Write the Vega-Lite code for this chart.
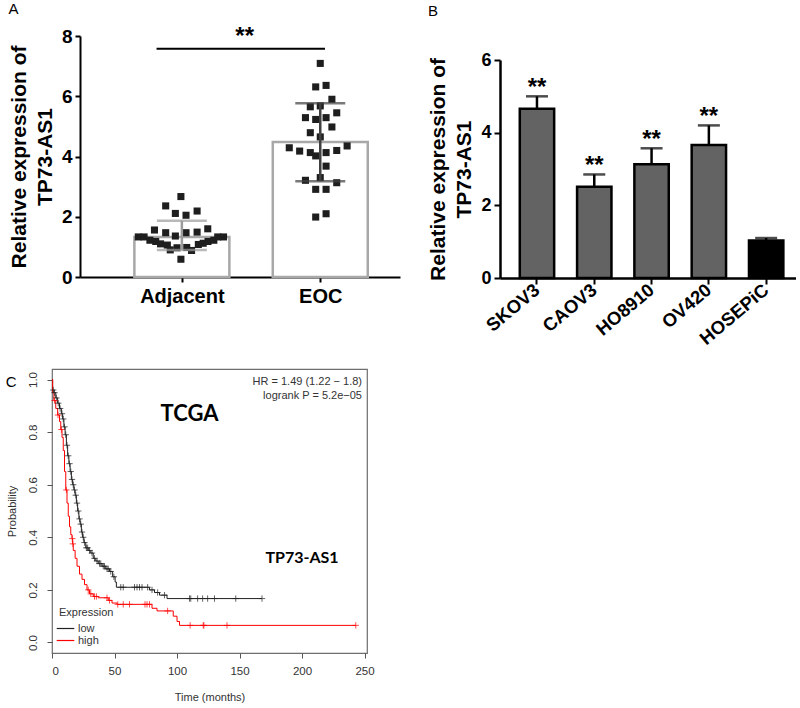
{
  "$schema": "https://vega.github.io/schema/vega-lite/v6.json",
  "padding": {"left": 5, "top": 2, "right": 0, "bottom": 0},
  "background": "white",
  "config": {"view": {"stroke": null}, "font": "Liberation Sans"},
  "resolve": {"scale": {"color": "independent", "stroke": "independent"}, "legend": {"color": "independent", "stroke": "independent"}},
  "datasets": {
    "barsA": [
      {"pos": 1, "group": "Adjacent", "mean": 1.33, "lo": 0.90, "hi": 1.87},
      {"pos": 2, "group": "EOC", "mean": 4.48, "lo": 3.18, "hi": 5.77}
    ],
    "ptsA": [
      {"xpos": 0.993, "v": 2.67}, {"xpos": 0.883, "v": 2.36}, {"xpos": 0.953, "v": 2.11}, {"xpos": 1.030, "v": 2.05},
      {"xpos": 1.110, "v": 2.19}, {"xpos": 0.802, "v": 1.56}, {"xpos": 0.883, "v": 1.47}, {"xpos": 0.953, "v": 1.36},
      {"xpos": 1.030, "v": 1.47}, {"xpos": 1.110, "v": 1.49}, {"xpos": 1.187, "v": 1.60}, {"xpos": 0.993, "v": 0.59},
      {"xpos": 0.685, "v": 1.33}, {"xpos": 0.727, "v": 1.33}, {"xpos": 0.769, "v": 1.22}, {"xpos": 0.811, "v": 1.18},
      {"xpos": 0.846, "v": 1.10}, {"xpos": 0.895, "v": 1.06}, {"xpos": 0.916, "v": 0.90}, {"xpos": 0.965, "v": 0.97},
      {"xpos": 1.035, "v": 0.98}, {"xpos": 1.070, "v": 0.88}, {"xpos": 1.119, "v": 1.08}, {"xpos": 1.154, "v": 1.12},
      {"xpos": 1.189, "v": 1.18}, {"xpos": 1.231, "v": 1.22}, {"xpos": 1.259, "v": 1.33}, {"xpos": 1.301, "v": 1.33},
      {"xpos": 2.000, "v": 7.09}, {"xpos": 1.967, "v": 6.31}, {"xpos": 2.042, "v": 6.36}, {"xpos": 2.084, "v": 5.90},
      {"xpos": 1.928, "v": 5.65}, {"xpos": 2.000, "v": 5.68}, {"xpos": 2.119, "v": 5.45}, {"xpos": 1.893, "v": 5.29},
      {"xpos": 1.967, "v": 5.23}, {"xpos": 2.042, "v": 5.29}, {"xpos": 2.084, "v": 4.98}, {"xpos": 1.928, "v": 4.79},
      {"xpos": 2.000, "v": 4.65}, {"xpos": 1.776, "v": 4.29}, {"xpos": 1.851, "v": 4.18}, {"xpos": 1.928, "v": 4.13},
      {"xpos": 1.967, "v": 4.02}, {"xpos": 2.042, "v": 4.13}, {"xpos": 2.119, "v": 4.20}, {"xpos": 2.194, "v": 4.35},
      {"xpos": 2.042, "v": 3.68}, {"xpos": 1.893, "v": 3.21}, {"xpos": 2.000, "v": 3.30}, {"xpos": 2.119, "v": 3.13},
      {"xpos": 1.967, "v": 2.91}, {"xpos": 2.042, "v": 2.91}, {"xpos": 1.967, "v": 1.99}, {"xpos": 2.042, "v": 2.10}
    ],
    "barsB": [
      {"line": "SKOV3", "mean": 4.66, "hi": 5.0, "sig": "**"},
      {"line": "CAOV3", "mean": 2.51, "hi": 2.85, "sig": "**"},
      {"line": "HO8910", "mean": 3.13, "hi": 3.57, "sig": "**"},
      {"line": "OV420", "mean": 3.66, "hi": 4.2, "sig": "**"},
      {"line": "HOSEPiC", "mean": 1.03, "hi": 1.10, "sig": ""}
    ],
    "km": [
      {"t": 0, "s": 1.0, "g": "low"}, {"t": 0.5, "s": 0.96, "g": "low"}, {"t": 1.5, "s": 0.95, "g": "low"},
      {"t": 3, "s": 0.93, "g": "low"}, {"t": 4.5, "s": 0.91, "g": "low"}, {"t": 6, "s": 0.89, "g": "low"},
      {"t": 7.5, "s": 0.87, "g": "low"}, {"t": 8.5, "s": 0.85, "g": "low"}, {"t": 9.5, "s": 0.82, "g": "low"},
      {"t": 10.5, "s": 0.79, "g": "low"}, {"t": 11.5, "s": 0.75, "g": "low"}, {"t": 12.5, "s": 0.71, "g": "low"},
      {"t": 13.5, "s": 0.68, "g": "low"}, {"t": 14.5, "s": 0.65, "g": "low"}, {"t": 15.5, "s": 0.62, "g": "low"},
      {"t": 16.5, "s": 0.60, "g": "low"}, {"t": 17.5, "s": 0.58, "g": "low"}, {"t": 18.5, "s": 0.56, "g": "low"},
      {"t": 19.5, "s": 0.53, "g": "low"}, {"t": 20.5, "s": 0.50, "g": "low"}, {"t": 21.5, "s": 0.47, "g": "low"},
      {"t": 22.5, "s": 0.45, "g": "low"}, {"t": 23.5, "s": 0.42, "g": "low"}, {"t": 24.5, "s": 0.40, "g": "low"},
      {"t": 25.5, "s": 0.38, "g": "low"}, {"t": 27, "s": 0.36, "g": "low"}, {"t": 29, "s": 0.35, "g": "low"},
      {"t": 31, "s": 0.34, "g": "low"}, {"t": 33, "s": 0.32, "g": "low"}, {"t": 35, "s": 0.31, "g": "low"},
      {"t": 37, "s": 0.30, "g": "low"}, {"t": 40, "s": 0.29, "g": "low"}, {"t": 43, "s": 0.28, "g": "low"},
      {"t": 46, "s": 0.27, "g": "low"}, {"t": 48.5, "s": 0.25, "g": "low"}, {"t": 50.5, "s": 0.23, "g": "low"},
      {"t": 51.5, "s": 0.21, "g": "low"}, {"t": 78, "s": 0.20, "g": "low"}, {"t": 82, "s": 0.19, "g": "low"},
      {"t": 86, "s": 0.18, "g": "low"}, {"t": 92, "s": 0.167, "g": "low"}, {"t": 168, "s": 0.167, "g": "low"},
      {"t": 0, "s": 1.0, "g": "high"}, {"t": 0.5, "s": 0.95, "g": "high"}, {"t": 1.5, "s": 0.92, "g": "high"},
      {"t": 3, "s": 0.89, "g": "high"}, {"t": 4.5, "s": 0.865, "g": "high"}, {"t": 6, "s": 0.84, "g": "high"},
      {"t": 7, "s": 0.81, "g": "high"}, {"t": 8, "s": 0.78, "g": "high"}, {"t": 9, "s": 0.73, "g": "high"},
      {"t": 10, "s": 0.65, "g": "high"}, {"t": 11, "s": 0.58, "g": "high"}, {"t": 12, "s": 0.53, "g": "high"},
      {"t": 13, "s": 0.48, "g": "high"}, {"t": 14, "s": 0.44, "g": "high"}, {"t": 15, "s": 0.41, "g": "high"},
      {"t": 16, "s": 0.395, "g": "high"}, {"t": 16.5, "s": 0.375, "g": "high"}, {"t": 17, "s": 0.35, "g": "high"},
      {"t": 18.5, "s": 0.32, "g": "high"}, {"t": 20, "s": 0.29, "g": "high"}, {"t": 22, "s": 0.26, "g": "high"},
      {"t": 24, "s": 0.24, "g": "high"}, {"t": 26, "s": 0.22, "g": "high"}, {"t": 28, "s": 0.20, "g": "high"},
      {"t": 30, "s": 0.185, "g": "high"}, {"t": 33, "s": 0.175, "g": "high"}, {"t": 37, "s": 0.17, "g": "high"},
      {"t": 45, "s": 0.16, "g": "high"}, {"t": 48, "s": 0.15, "g": "high"}, {"t": 52, "s": 0.145, "g": "high"},
      {"t": 80, "s": 0.13, "g": "high"}, {"t": 84, "s": 0.12, "g": "high"}, {"t": 97, "s": 0.10, "g": "high"},
      {"t": 100, "s": 0.08, "g": "high"}, {"t": 102, "s": 0.065, "g": "high"}, {"t": 243, "s": 0.065, "g": "high"}
    ],
    "cens": [
      {"t": 1, "s": 0.96, "g": "low"}, {"t": 2, "s": 0.95, "g": "low"}, {"t": 3.5, "s": 0.93, "g": "low"},
      {"t": 5, "s": 0.91, "g": "low"}, {"t": 6.5, "s": 0.89, "g": "low"}, {"t": 8, "s": 0.87, "g": "low"},
      {"t": 9, "s": 0.85, "g": "low"}, {"t": 10, "s": 0.82, "g": "low"}, {"t": 11, "s": 0.79, "g": "low"},
      {"t": 12, "s": 0.75, "g": "low"}, {"t": 13, "s": 0.71, "g": "low"}, {"t": 14, "s": 0.68, "g": "low"},
      {"t": 15, "s": 0.65, "g": "low"}, {"t": 16, "s": 0.62, "g": "low"}, {"t": 17, "s": 0.60, "g": "low"},
      {"t": 18, "s": 0.58, "g": "low"}, {"t": 19, "s": 0.56, "g": "low"}, {"t": 20, "s": 0.53, "g": "low"},
      {"t": 21, "s": 0.50, "g": "low"}, {"t": 22, "s": 0.47, "g": "low"}, {"t": 23, "s": 0.45, "g": "low"},
      {"t": 24, "s": 0.42, "g": "low"}, {"t": 25, "s": 0.40, "g": "low"}, {"t": 26, "s": 0.38, "g": "low"},
      {"t": 27.5, "s": 0.36, "g": "low"}, {"t": 28.5, "s": 0.36, "g": "low"}, {"t": 30, "s": 0.35, "g": "low"},
      {"t": 32, "s": 0.34, "g": "low"}, {"t": 34, "s": 0.32, "g": "low"}, {"t": 36, "s": 0.31, "g": "low"},
      {"t": 38, "s": 0.30, "g": "low"}, {"t": 39, "s": 0.30, "g": "low"}, {"t": 41, "s": 0.29, "g": "low"},
      {"t": 42, "s": 0.29, "g": "low"}, {"t": 44, "s": 0.28, "g": "low"}, {"t": 45, "s": 0.28, "g": "low"},
      {"t": 47, "s": 0.27, "g": "low"}, {"t": 49.5, "s": 0.25, "g": "low"}, {"t": 55, "s": 0.21, "g": "low"},
      {"t": 57, "s": 0.21, "g": "low"}, {"t": 66, "s": 0.21, "g": "low"}, {"t": 68, "s": 0.21, "g": "low"},
      {"t": 70, "s": 0.21, "g": "low"}, {"t": 72, "s": 0.21, "g": "low"}, {"t": 76.5, "s": 0.21, "g": "low"},
      {"t": 80, "s": 0.20, "g": "low"}, {"t": 84.5, "s": 0.19, "g": "low"}, {"t": 90, "s": 0.18, "g": "low"},
      {"t": 110, "s": 0.167, "g": "low"}, {"t": 111, "s": 0.167, "g": "low"}, {"t": 116.5, "s": 0.167, "g": "low"},
      {"t": 120.5, "s": 0.167, "g": "low"}, {"t": 124.5, "s": 0.167, "g": "low"}, {"t": 130, "s": 0.167, "g": "low"},
      {"t": 147, "s": 0.167, "g": "low"}, {"t": 168, "s": 0.167, "g": "low"},
      {"t": 2, "s": 0.92, "g": "high"}, {"t": 4.8, "s": 0.865, "g": "high"}, {"t": 7.5, "s": 0.81, "g": "high"},
      {"t": 11.5, "s": 0.58, "g": "high"}, {"t": 16.2, "s": 0.395, "g": "high"}, {"t": 16.7, "s": 0.375, "g": "high"},
      {"t": 29, "s": 0.20, "g": "high"}, {"t": 31, "s": 0.185, "g": "high"}, {"t": 34, "s": 0.175, "g": "high"},
      {"t": 35.5, "s": 0.175, "g": "high"}, {"t": 44, "s": 0.17, "g": "high"}, {"t": 46, "s": 0.16, "g": "high"},
      {"t": 52.6, "s": 0.145, "g": "high"}, {"t": 57, "s": 0.145, "g": "high"}, {"t": 62, "s": 0.145, "g": "high"},
      {"t": 74.4, "s": 0.145, "g": "high"}, {"t": 76, "s": 0.145, "g": "high"}, {"t": 78, "s": 0.145, "g": "high"},
      {"t": 92.5, "s": 0.12, "g": "high"}, {"t": 110.5, "s": 0.065, "g": "high"}, {"t": 121, "s": 0.065, "g": "high"},
      {"t": 121.5, "s": 0.065, "g": "high"}, {"t": 140, "s": 0.065, "g": "high"}, {"t": 243, "s": 0.065, "g": "high"}
    ]
  },
  "vconcat": [
    {
      "resolve": {"scale": {"color": "independent"}, "legend": {"color": "independent"}},
      "hconcat": [
        {
          "width": 348,
          "height": 241,
          "title": {"text": "A", "anchor": "start", "frame": "bounds", "fontSize": 15, "fontWeight": "normal", "offset": 8, "font": "Liberation Sans"},
          "layer": [
            {
              "data": {"name": "barsA"},
              "mark": {"type": "bar", "size": 95, "fill": "white", "stroke": "#a8a8a8", "strokeWidth": 2.5},
              "encoding": {
                "x": {"field": "pos", "type": "quantitative", "scale": {"domain": [0.3, 2.54], "range": [28, 348], "nice": false, "zero": false},
                  "axis": {"values": [1, 2], "labelExpr": "datum.value == 1 ? 'Adjacent' : 'EOC'", "title": null, "grid": false,
                    "labelFontSize": 20, "labelFontWeight": "bold", "labelColor": "black", "domainColor": "black", "domainWidth": 2,
                    "tickColor": "black", "tickWidth": 2, "tickSize": 5, "labelPadding": 4}},
                "y": {"field": "mean", "type": "quantitative", "scale": {"domain": [0, 8], "nice": false},
                  "axis": {"offset": -28, "values": [0, 2, 4, 6, 8], "title": ["Relative expression of", "TP73-AS1"], "titleFontSize": 21,
                    "titleFontWeight": "bold", "titleColor": "black", "titleLineHeight": 26, "grid": false,
                    "labelFontSize": 19, "labelFontWeight": "bold", "labelColor": "black", "domainColor": "black", "domainWidth": 2,
                    "tickColor": "black", "tickWidth": 2, "tickSize": 5, "labelPadding": 3, "titlePadding": 6}}
              }
            },
            {
              "data": {"name": "ptsA"},
              "mark": {"type": "square", "size": 50, "color": "#1e1e1e", "opacity": 1},
              "encoding": {
                "x": {"field": "xpos", "type": "quantitative"},
                "y": {"field": "v", "type": "quantitative"}
              }
            },
            {
              "data": {"name": "barsA"},
              "mark": {"type": "rule", "strokeWidth": 2.5},
              "encoding": {
                "x": {"field": "pos", "type": "quantitative"},
                "y": {"field": "lo", "type": "quantitative"},
                "y2": {"field": "hi"},
                "color": {"field": "group", "type": "nominal", "scale": {"domain": ["Adjacent", "EOC"], "range": ["#9b9b9b", "#404040"]}, "legend": null}
              }
            },
            {
              "data": {"name": "barsA"},
              "mark": {"type": "tick", "orient": "horizontal", "size": 50, "thickness": 2.5},
              "encoding": {
                "x": {"field": "pos", "type": "quantitative"},
                "y": {"field": "lo", "type": "quantitative"},
                "color": {"field": "group", "type": "nominal", "legend": null}
              }
            },
            {
              "data": {"name": "barsA"},
              "mark": {"type": "tick", "orient": "horizontal", "size": 50, "thickness": 2.5},
              "encoding": {
                "x": {"field": "pos", "type": "quantitative"},
                "y": {"field": "hi", "type": "quantitative"},
                "color": {"field": "group", "type": "nominal", "legend": null}
              }
            },
            {
              "data": {"values": [{}]},
              "mark": {"type": "rule", "strokeWidth": 2, "color": "black"},
              "encoding": {"x": {"datum": 0.817}, "x2": {"datum": 2.034}, "y": {"datum": 7.58}}
            },
            {
              "data": {"values": [{}]},
              "mark": {"type": "text", "text": "**", "fontSize": 24, "fontWeight": "bold", "baseline": "alphabetic", "color": "black"},
              "encoding": {"x": {"datum": 1.454}, "y": {"datum": 7.72}}
            }
          ]
        },
        {
          "width": 296,
          "height": 242,
          "title": {"text": "B", "anchor": "start", "frame": "bounds", "fontSize": 15, "fontWeight": "normal", "offset": 17, "font": "Liberation Sans"},
          "data": {"name": "barsB"},
          "layer": [
            {
              "mark": {"type": "bar", "stroke": "black", "strokeWidth": 2.5},
              "encoding": {
                "x": {"field": "line", "type": "nominal", "sort": null,
                  "scale": {"paddingInner": 0.4, "paddingOuter": 0.283, "align": 0.61},
                  "axis": {"title": null, "labelAngle": -40, "labelFontSize": 18.5, "labelFontWeight": "bold", "labelColor": "black",
                    "domainColor": "black", "domainWidth": 2.5, "tickColor": "black", "tickWidth": 2, "tickSize": 6,
                    "labelAlign": "right", "labelBaseline": "middle", "labelPadding": 3}},
                "y": {"field": "mean", "type": "quantitative", "scale": {"domain": [0, 6], "range": [242, 24], "nice": false},
                  "axis": {"values": [0, 2, 4, 6], "title": ["Relative expression of", "TP73-AS1"], "titleFontSize": 21,
                    "titleFontWeight": "bold", "titleColor": "black", "titleLineHeight": 26, "grid": false,
                    "labelFontSize": 18, "labelFontWeight": "bold", "labelColor": "black", "domainColor": "black", "domainWidth": 2.5,
                    "tickColor": "black", "tickWidth": 2, "tickSize": 6, "labelPadding": 3, "titlePadding": 6}},
                "color": {"field": "line", "type": "nominal",
                  "scale": {"domain": ["SKOV3", "CAOV3", "HO8910", "OV420", "HOSEPiC"], "range": ["#636363", "#636363", "#636363", "#636363", "#000000"]},
                  "legend": null}
              }
            },
            {
              "mark": {"type": "rule", "strokeWidth": 2.5, "color": "black"},
              "encoding": {
                "x": {"field": "line", "type": "nominal", "sort": null},
                "y": {"field": "mean", "type": "quantitative"},
                "y2": {"field": "hi"}
              }
            },
            {
              "mark": {"type": "tick", "orient": "horizontal", "size": 22, "thickness": 2.5, "color": "black"},
              "encoding": {
                "x": {"field": "line", "type": "nominal", "sort": null},
                "y": {"field": "hi", "type": "quantitative"}
              }
            },
            {
              "mark": {"type": "text", "fontSize": 24, "fontWeight": "bold", "baseline": "alphabetic", "dy": -1, "color": "black"},
              "encoding": {
                "x": {"field": "line", "type": "nominal", "sort": null},
                "y": {"field": "hi", "type": "quantitative"},
                "text": {"field": "sig"}
              }
            }
          ]
        }
      ],
      "spacing": 27
    },
    {
      "width": 315,
      "height": 284,
      "view": {"stroke": "#6e6e6e", "strokeWidth": 1.2},
      "resolve": {"scale": {"color": "independent", "stroke": "independent"}},
      "layer": [
        {
          "data": {"name": "km"},
          "mark": {"type": "line", "interpolate": "step-after", "strokeWidth": 1},
          "encoding": {
            "x": {"field": "t", "type": "quantitative", "scale": {"domain": [0, 252], "nice": false, "zero": false},
              "axis": {"values": [0, 50, 100, 150, 200, 250], "title": "Time (months)", "titleFontSize": 11, "titleFontWeight": "normal",
                "titleColor": "#333", "titlePadding": 15, "grid": false, "domain": false, "labelFontSize": 11.5, "labelColor": "#333",
                "tickColor": "#555", "tickSize": 5, "labelPadding": 7}},
            "y": {"field": "s", "type": "quantitative", "scale": {"domain": [-0.04, 1.04], "nice": false, "zero": false},
              "axis": {"values": [0, 0.2, 0.4, 0.6, 0.8, 1.0], "format": ".1f", "title": "Probability", "titleFontSize": 11,
                "titleFontWeight": "normal", "titleColor": "#333", "titlePadding": 10, "grid": false, "domain": false,
                "labelFontSize": 11.5, "labelColor": "#333", "labelAngle": 270, "tickColor": "#555", "tickSize": 5, "labelPadding": 9}},
            "color": {"field": "g", "type": "nominal", "scale": {"domain": ["low", "high"], "range": ["#222222", "#ff0000"]},
              "legend": {"title": "Expression", "orient": "bottom-left", "offset": 7, "titleFontSize": 11, "titleFontWeight": "normal",
                "titleColor": "#333", "labelFontSize": 11, "labelColor": "#333", "symbolType": "M-1.6,0H1.6", "symbolStrokeWidth": 1.2,
                "symbolSize": 121, "symbolFillColor": "transparent", "rowPadding": 0, "titlePadding": 4, "labelOffset": 6}}
          }
        },
        {
          "data": {"name": "cens"},
          "mark": {"type": "point", "shape": "M-1,0H1M0,-1V1", "filled": false, "size": 40, "strokeWidth": 1},
          "encoding": {
            "x": {"field": "t", "type": "quantitative"},
            "y": {"field": "s", "type": "quantitative"},
            "stroke": {"field": "g", "type": "nominal", "scale": {"domain": ["low", "high"], "range": ["#222222", "#ff0000"]}, "legend": null}
          }
        },
        {
          "data": {"values": [{}]},
          "mark": {"type": "text", "align": "right", "fontSize": 11, "color": "#333", "text": "HR = 1.49 (1.22 − 1.8)"},
          "encoding": {"x": {"datum": 248}, "y": {"datum": 0.99}}
        },
        {
          "data": {"values": [{}]},
          "mark": {"type": "text", "align": "right", "fontSize": 11, "color": "#333", "text": "logrank P = 5.2e−05"},
          "encoding": {"x": {"datum": 248}, "y": {"datum": 0.937}}
        },
        {
          "data": {"values": [{}]},
          "mark": {"type": "text", "align": "center", "baseline": "middle", "fontSize": 22, "fontWeight": "bold", "font": "Lato", "color": "black", "text": "TCGA"},
          "encoding": {"x": {"datum": 110}, "y": {"datum": 0.87}}
        },
        {
          "data": {"values": [{}]},
          "mark": {"type": "text", "align": "center", "baseline": "middle", "fontSize": 16, "fontWeight": "bold", "font": "Lato", "color": "black", "text": "TP73-AS1"},
          "encoding": {"x": {"datum": 200}, "y": {"datum": 0.322}}
        },
        {
          "data": {"values": [{}]},
          "mark": {"type": "text", "align": "left", "baseline": "middle", "fontSize": 15, "font": "Liberation Sans", "color": "black", "text": "C"},
          "encoding": {"x": {"datum": -37}, "y": {"datum": 0.99}}
        }
      ]
    }
  ],
  "spacing": 20
}
